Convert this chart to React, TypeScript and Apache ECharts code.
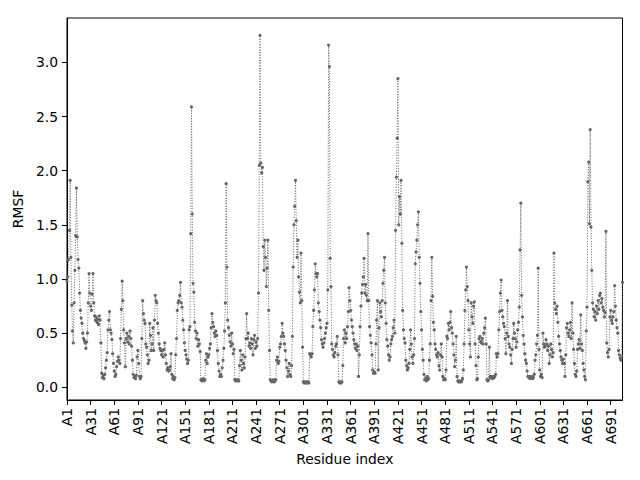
import React, { useEffect, useRef } from "react";
import * as echarts from "echarts";

// RMSF per residue (residues A1..A706)
const rmsf001_100 = [
  0.98, 1.02, 1.18, 1.45, 1.91, 1.2, 0.76, 0.52, 0.41, 0.78,
  1.08, 1.4, 1.84, 1.39, 1.18, 1.1, 0.87, 0.71, 0.64, 0.59,
  0.5, 0.45, 0.43, 0.41, 0.36, 0.42, 0.5, 0.78, 1.05, 0.87,
  0.75, 0.71, 0.86, 1.05, 0.78, 0.66, 0.62, 0.65, 0.6, 0.63,
  0.58, 0.66, 0.62, 0.41, 0.13, 0.09, 0.11, 0.08, 0.12, 0.18,
  0.25, 0.32, 0.53, 0.62, 0.7, 0.53, 0.5, 0.44, 0.31, 0.22,
  0.15, 0.1, 0.12, 0.19, 0.24, 0.28, 0.25, 0.22, 0.45, 0.72,
  0.98, 0.8, 0.53, 0.41, 0.19, 0.45, 0.5, 0.42, 0.47, 0.4,
  0.52, 0.45, 0.38, 0.25, 0.12, 0.09, 0.1, 0.08, 0.11, 0.28,
  0.34, 0.22, 0.1, 0.08, 0.1, 0.45, 0.8, 0.68, 0.62, 0.59,
];
const rmsf101_200 = [
  0.4, 0.37, 0.3, 0.22, 0.25, 0.59, 0.48, 0.34, 0.4, 0.55,
  0.34, 0.62, 0.85, 0.8, 0.78, 0.59, 0.5, 0.4, 0.36, 0.34,
  0.3, 0.34, 0.28, 0.35, 0.41, 0.3, 0.22, 0.16, 0.18, 0.15,
  0.16, 0.19, 0.31, 0.12, 0.08, 0.1, 0.07, 0.09, 0.3, 0.45,
  0.71, 0.78, 0.8, 0.85, 0.97, 0.78, 0.74, 0.62, 0.53, 0.41,
  0.34, 0.3, 0.26, 0.22, 0.25, 0.53, 0.56, 1.42, 2.59, 1.6,
  0.96, 0.88, 0.6, 0.52, 0.45, 0.5, 0.38, 0.44, 0.4, 0.33,
  0.07, 0.06, 0.07, 0.08, 0.06, 0.07, 0.25, 0.31, 0.22, 0.28,
  0.3, 0.36, 0.4, 0.55, 0.68, 0.6, 0.56, 0.5, 0.47, 0.52,
  0.48, 0.34, 0.22, 0.15, 0.1, 0.12, 0.1, 0.18, 0.25, 0.36,
];
const rmsf201_300 = [
  0.52, 0.78, 1.88, 1.11, 0.62, 0.55, 0.48, 0.42, 0.38, 0.5,
  0.4, 0.31, 0.35, 0.07, 0.06, 0.07, 0.06, 0.07, 0.06, 0.2,
  0.34, 0.25, 0.16, 0.3, 0.22, 0.18, 0.28, 0.45, 0.68, 0.45,
  0.5, 0.38, 0.41, 0.36, 0.45, 0.4, 0.3, 0.44, 0.48, 0.36,
  0.42, 0.38, 0.45, 0.87, 2.05, 3.25, 2.07, 1.98, 2.03, 1.3,
  1.08, 1.36, 1.2, 0.93, 1.1, 1.36, 0.71, 0.34, 0.07, 0.06,
  0.05, 0.06, 0.07, 0.05, 0.06, 0.07, 0.25, 0.28, 0.22, 0.24,
  0.37, 0.4, 0.47, 0.59, 0.5, 0.47, 0.4, 0.34, 0.25, 0.18,
  0.1, 0.15, 0.22, 0.12, 0.1, 0.2, 0.47, 1.11, 1.5, 1.67,
  1.91, 1.54, 1.2, 1.36, 1.02, 0.88, 0.78, 1.24, 0.8, 0.37,
];
const rmsf301_400 = [
  0.05, 0.04, 0.05, 0.04, 0.05, 0.04, 0.05, 0.04, 0.31, 0.3,
  0.28, 0.31, 0.56, 0.71, 0.9, 1.14, 1.05, 1.02, 1.05, 0.78,
  0.7, 0.62, 0.55, 0.44, 0.4, 0.37, 0.41, 0.45, 0.5, 0.55,
  0.59, 0.9, 3.16, 2.96, 1.19, 0.93, 0.4, 0.35, 0.3, 0.28,
  0.32, 0.38, 0.4, 0.47, 0.3, 0.05, 0.04, 0.05, 0.04, 0.05,
  0.2, 0.45, 0.53, 0.41, 0.5, 0.45, 0.56, 0.7, 0.92, 0.8,
  0.71, 0.62, 0.56, 0.5, 0.44, 0.4, 0.36, 0.4, 0.34, 0.38,
  0.1, 0.3, 0.56, 0.75, 0.87, 0.95, 1.02, 1.19, 0.87, 0.95,
  0.85, 0.8, 1.42, 0.8, 0.56, 0.48, 0.41, 0.3, 0.16, 0.13,
  0.14, 0.13, 0.4, 0.62, 0.8, 0.16, 0.55, 0.78, 0.7, 0.65,
];
const rmsf401_500 = [
  0.8, 0.96, 1.08, 1.2, 0.78, 0.59, 0.44, 0.38, 0.3, 0.25,
  0.28, 0.4, 0.44, 0.47, 0.55, 0.62, 0.5, 1.45, 1.94, 2.3,
  2.85, 1.5, 1.76, 1.6, 1.91, 1.33, 0.71, 0.53, 0.45, 0.41,
  0.25, 0.2, 0.16, 0.18, 0.22, 0.35, 0.53, 0.4, 0.28, 0.22,
  0.3, 0.45, 1.14, 1.25, 1.36, 1.5, 1.62, 1.2, 0.96, 0.7,
  0.53, 0.35, 0.25, 0.12, 0.07, 0.08, 0.06, 0.1, 0.07, 0.08,
  0.25, 0.4, 0.8, 1.2, 0.84, 0.6, 0.53, 0.4, 0.35, 0.3,
  0.28, 0.32, 0.2, 0.16, 0.3, 0.4, 0.28, 0.1, 0.07, 0.08,
  0.07, 0.16, 0.47, 0.45, 0.59, 0.53, 0.6, 0.7, 0.55, 0.5,
  0.4, 0.3, 0.19, 0.25, 0.47, 0.1, 0.06, 0.05, 0.06, 0.05,
];
const rmsf501_600 = [
  0.05, 0.06, 0.08, 0.16, 0.4, 0.71, 0.9, 1.11, 0.93, 0.8,
  0.53, 0.4, 0.28, 0.78, 0.65, 0.59, 0.75, 0.79, 0.4, 0.2,
  0.07, 0.08, 0.28, 0.45, 0.47, 0.42, 0.41, 0.45, 0.4, 0.5,
  0.55, 0.64, 0.4, 0.07, 0.06, 0.07, 0.37, 0.1, 0.09, 0.1,
  0.08, 0.1, 0.09, 0.1, 0.12, 0.31, 0.28, 0.31, 0.53, 0.7,
  0.87, 0.99, 0.71, 0.65, 0.59, 0.56, 0.45, 0.31, 0.5, 0.8,
  0.47, 0.4, 0.37, 0.3, 0.22, 0.35, 0.45, 0.59, 0.5, 0.45,
  0.37, 0.42, 0.53, 0.6, 0.74, 1.27, 1.7, 0.85, 0.65, 0.48,
  0.4, 0.31, 0.25, 0.22, 0.15, 0.1, 0.09, 0.1, 0.08, 0.09,
  0.1, 0.08, 0.09, 0.12, 0.25, 0.3, 0.4, 0.48, 1.1, 0.35,
];
const rmsf601_706 = [
  0.16, 0.1, 0.12, 0.09, 0.5, 0.4, 0.37, 0.38, 0.44, 0.4,
  0.34, 0.38, 0.22, 0.3, 0.4, 0.35, 0.28, 0.32, 1.24, 0.78,
  0.72, 0.68, 0.75, 0.6, 0.47, 0.4, 0.34, 0.28, 0.25, 0.22,
  0.26, 0.22, 0.1, 0.3, 0.55, 0.59, 0.5, 0.47, 0.53, 0.6,
  0.45, 0.78, 0.5, 0.35, 0.22, 0.12, 0.1, 0.15, 0.35, 0.4,
  0.44, 0.36, 0.67, 0.4, 0.34, 0.22, 0.16, 0.1, 0.07, 0.52,
  0.74, 1.9, 2.08, 1.51, 2.38, 1.48, 1.08, 0.78, 0.72, 0.65,
  0.7, 0.62, 0.75, 0.68, 0.8, 0.72, 0.85, 0.87, 0.78, 0.82,
  0.74, 0.71, 0.65, 0.69, 1.44, 0.41, 0.32, 0.28, 0.35, 0.65,
  0.71, 0.62, 0.59, 0.65, 0.7, 0.94, 0.75, 0.62, 0.55, 0.5,
  0.34, 0.3, 0.27, 0.25, 0.28, 0.97,
];

const rmsfValues = [
  ...rmsf001_100,
  ...rmsf101_200,
  ...rmsf201_300,
  ...rmsf301_400,
  ...rmsf401_500,
  ...rmsf501_600,
  ...rmsf601_706,
];
const residueLabels = rmsfValues.map((_, i) => "A" + (i + 1));
const yTickValues = [0, 0.5, 1, 1.5, 2, 2.5, 3];
const xLabelStep = 30;

const FONT = "DejaVu Sans";
const GREY = "#666666";

export default function App() {
  const ref = useRef<HTMLDivElement>(null);
  useEffect(() => {
    if (!ref.current) return;
    const chart = echarts.init(ref.current, undefined, { renderer: "svg" });
    chart.setOption({
      animation: false,
      backgroundColor: "#ffffff",
      textStyle: { fontFamily: FONT, color: "#000" },
      grid: {
        left: 67,
        top: 18,
        right: 17.5,
        bottom: 80,
        show: true,
        borderColor: "#000",
        borderWidth: 1,
        containLabel: false,
        outerBoundsMode: "none",
      },
      xAxis: {
        type: "category",
        data: residueLabels,
        boundaryGap: false,
        name: "Residue index",
        nameLocation: "middle",
        nameGap: 49,
        nameTextStyle: { fontFamily: FONT, fontSize: 13.9, color: "#000" },
        axisLine: { onZero: false, lineStyle: { color: "#000", width: 1 } },
        axisTick: {
          show: true,
          length: 5,
          inside: false,
          interval: (idx: number) => idx % xLabelStep === 0,
          lineStyle: { color: "#000", width: 1 },
        },
        axisLabel: {
          interval: (idx: number) => idx % xLabelStep === 0,
          rotate: 90,
          margin: 8,
          fontFamily: FONT,
          fontSize: 13.9,
          color: "#000",
        },
        splitLine: { show: false },
      },
      yAxis: {
        type: "value",
        min: -0.117,
        max: 3.41,
        name: "RMSF",
        nameLocation: "middle",
        nameGap: 35,
        nameTextStyle: { fontFamily: FONT, fontSize: 13.9, color: "#000" },
        axisLine: { show: true, lineStyle: { color: "#000", width: 1 } },
        axisTick: {
          show: true,
          length: 5,
          customValues: yTickValues,
          lineStyle: { color: "#000", width: 1 },
        },
        axisLabel: {
          customValues: yTickValues,
          formatter: (v: number) => v.toFixed(1),
          margin: 9,
          fontFamily: FONT,
          fontSize: 13.9,
          color: "#000",
        },
        splitLine: { show: false },
      },
      series: [
        {
          type: "line",
          data: rmsfValues,
          symbol: "circle",
          symbolSize: 3.2,
          showSymbol: true,
          showAllSymbol: true,
          itemStyle: { color: GREY },
          lineStyle: { color: GREY, width: 1, type: [1, 1.65] },
          emphasis: { disabled: true },
          silent: true,
        },
      ],
    });
    return () => chart.dispose();
  }, []);
  return (
    <div
      ref={ref}
      style={{ position: "absolute", left: 0, top: 0, width: 640, height: 480 }}
    />
  );
}
